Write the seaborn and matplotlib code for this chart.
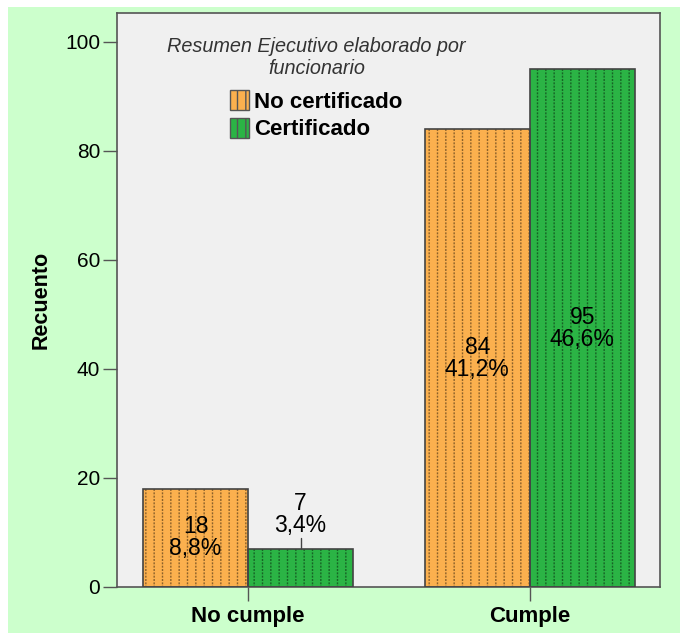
import pandas as pd
import seaborn as sns
from matplotlib import pyplot as plt
from matplotlib.patches import Rectangle

# data
categories = ['No cumple', 'Cumple']
groups = ['No certificado', 'Certificado']
counts_no_cert = [18, 84]
counts_cert = [7, 95]
pct_no_cert = ['8,8%', '41,2%']
pct_cert = ['3,4%', '46,6%']

ORANGE = '#FBB04E'
GREEN = '#2BB445'


def build_df() -> pd.DataFrame:
    record = []
    for i, cat in enumerate(categories):
        record.append([cat, groups[0], counts_no_cert[i], pct_no_cert[i]])
        record.append([cat, groups[1], counts_cert[i], pct_cert[i]])
    return pd.DataFrame(record, columns=['cumple', 'grupo', 'recuento', 'pct'])


def dotted_fill(ax, p, color):
    # vertical hatch lines, broken up by horizontal hatch in the fill colour -> dotted look
    p.set_hatch('||')
    p.set_edgecolor((0, 0, 0, 0.45))
    p.set_linewidth(0)
    xy, w, h = p.get_xy(), p.get_width(), p.get_height()
    ax.add_patch(Rectangle(xy, w, h, fill=False, hatch='-----', edgecolor=color,
                           linewidth=0, zorder=2.5))
    ax.add_patch(Rectangle(xy, w, h, fill=False, edgecolor='#444444', linewidth=1.2, zorder=3))


def plot(df: pd.DataFrame):
    sns.set_theme(style="white")
    plt.rcParams['font.family'] = ['Liberation Sans', 'DejaVu Sans']
    plt.rcParams['hatch.linewidth'] = 1.0

    fig = plt.figure(figsize=(6.8, 6.33), dpi=100)
    fig.patch.set_facecolor('white')
    fig.patches.append(Rectangle((8 / 680, 0), 1, 1 - 7 / 633, transform=fig.transFigure,
                                 facecolor='#CCFFCC', edgecolor='none', zorder=-10))
    ax = fig.add_axes([117 / 680, 46 / 633, 543 / 680, 574 / 633])
    ax.set_facecolor('#F0F0F0')

    sns.barplot(data=df, x='cumple', y='recuento', hue='grupo', order=categories,
                hue_order=groups, palette=[ORANGE, GREEN], width=0.745, gap=0,
                saturation=1, ax=ax, legend=True)

    for cont, col in zip(ax.containers, [ORANGE, GREEN]):
        for p in cont:
            dotted_fill(ax, p, col)

    # labels: count + percentage
    for cont, counts, pcts in zip(ax.containers, [counts_no_cert, counts_cert], [pct_no_cert, pct_cert]):
        for bar, c, pc in zip(cont, counts, pcts):
            xc = bar.get_x() + bar.get_width() / 2
            h = bar.get_height()
            if h < 10:
                ax.text(xc, h + 2.2, f'{c}\n{pc}', ha='center', va='bottom', fontsize=16.5,
                        linespacing=0.95, color='black', zorder=5)
                ax.plot([xc, xc], [h, h + 1.9], color='#444444', lw=1, zorder=4)
            else:
                ax.text(xc, h / 2, f'{c}\n{pc}', ha='center', va='center', fontsize=16.5,
                        linespacing=0.95, color='black', zorder=5)

    ax.set_ylim(0, 105.3)
    ax.set_xlim(-0.465, 1.462)
    ax.set_yticks([0, 20, 40, 60, 80, 100])
    ax.set_xlabel('')
    ax.set_ylabel('Recuento', fontsize=15.5, fontweight='bold', labelpad=10, color='black')
    ax.tick_params(axis='y', length=10, width=1, color='#555555', labelsize=15, pad=2,
                   left=True, labelcolor='black')
    ax.tick_params(axis='x', length=10, width=1, color='#555555', labelsize=16, pad=4,
                   bottom=True, labelcolor='black')
    for lbl in ax.get_xticklabels():
        lbl.set_fontweight('bold')
    for s in ax.spines.values():
        s.set_color('#555555')
        s.set_linewidth(1.2)

    handles, labels = ax.get_legend_handles_labels()
    leg = ax.legend(handles, labels, title='Resumen Ejecutivo elaborado por\nfuncionario',
                    loc='upper center', bbox_to_anchor=(0.367, 0.978), frameon=False,
                    fontsize=16, handlelength=0.85, handleheight=1.0, handletextpad=0.25,
                    labelspacing=0.22, borderpad=0)
    leg.get_title().set_fontstyle('italic')
    leg.get_title().set_fontsize(14.3)
    leg.get_title().set_color('#333333')
    leg.get_title().set_multialignment('center')
    leg.get_title().set_linespacing(1.2)
    leg._legend_box.sep = 9
    for t in leg.get_texts():
        t.set_fontweight('bold')
        t.set_color('black')
    for h in leg.legend_handles:
        h.set_hatch('||')
        h.set_edgecolor('#555555')
        h.set_linewidth(1)

    fig.savefig('out.png', dpi=100)


if __name__ == "__main__":
    plot(build_df())
